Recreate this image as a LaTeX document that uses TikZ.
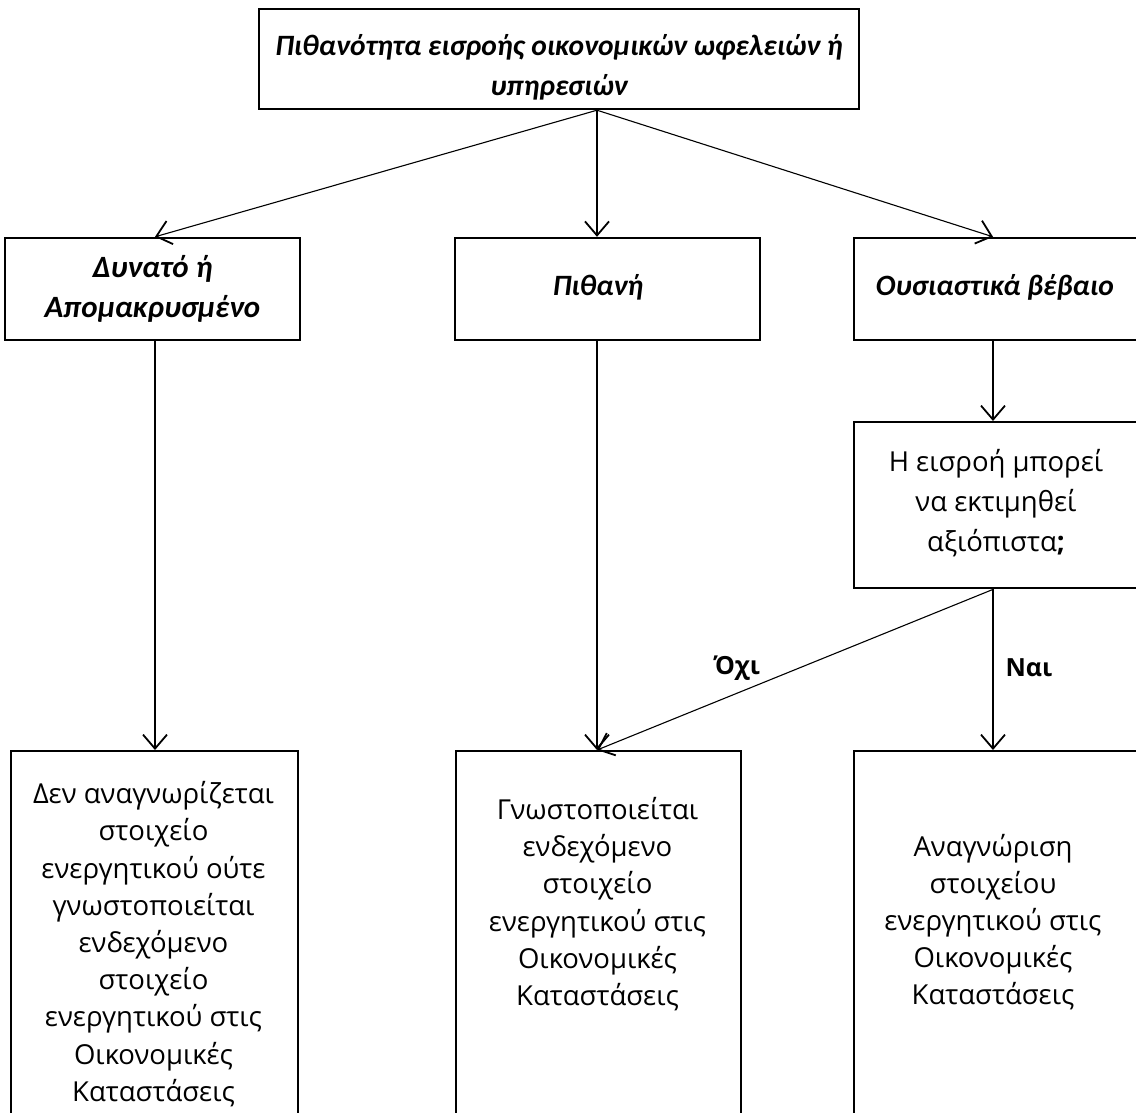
\documentclass[tikz,border=0pt]{standalone}
\usepackage{fontspec}
\setmainfont{Open Sans}
\newfontfamily\carlito{Carlito}
\usetikzlibrary{arrows.meta,calc}
\begin{document}
\begin{tikzpicture}[x=1pt,y=-1pt,
  box/.style={draw, line width=2.4pt, align=center, inner sep=0pt},
  hd/.style={font=\carlito\bfseries\itshape\fontsize{29.5}{40}\selectfont},
  md/.style={font=\carlito\bfseries\itshape\fontsize{31}{40}\selectfont},
  bd/.style={font=\fontsize{27.5}{37.2}\selectfont},
  qd/.style={font=\fontsize{27.5}{40}\selectfont},
  arr/.style={line width=1.1pt, -{Straight Barb[length=14pt,width=24pt,line width=1.8pt]}},
  lab/.style={font=\bfseries\fontsize{25}{28}\selectfont}]
\useasboundingbox (0,0) rectangle (1136,1112);
% top
\node[box,minimum width=600pt,minimum height=100pt] (top) at (559,59) {};
\node[hd,align=center] (topt) at (559,67) {Πιθανότητα εισροής οικονομικών ωφελειών ή\\υπηρεσιών};
% middle row
\node[box,md,minimum width=295pt,minimum height=102pt] (a) at (152.5,289) {Δυνατό ή\\Απομακρυσμένο};
\node[box,hd,minimum width=305pt,minimum height=102pt] (b) at (607.5,289) {};
\node[hd] (bt) at (598,287) {Πιθανή};
\node[box,minimum width=292pt,minimum height=102pt,anchor=west] (c) at (853,289) {};
\node[hd] (ct) at (995,287) {Ουσιαστικά βέβαιο};
% question
\node[box,minimum width=292pt,minimum height=166pt,anchor=north west] (q) at (853,421) {};
\node[qd,align=center] (qt) at (996,503) {Η εισροή μπορεί\\να εκτιμηθεί\\αξιόπιστα\textbf{;}};
% bottom
\node[box,minimum width=287pt,minimum height=370pt,anchor=north west] (d) at (10,750) {};
\node[box,minimum width=285pt,minimum height=370pt,anchor=north west] (e) at (455,750) {};
\node[box,minimum width=292pt,minimum height=370pt,anchor=north west] (f) at (853,750) {};
\node[bd,align=center] (dt) at (153.5,944) {Δεν αναγνωρίζεται\\στοιχείο\\ενεργητικού ούτε\\γνωστοποιείται\\ενδεχόμενο\\στοιχείο\\ενεργητικού στις\\Οικονομικές\\Καταστάσεις};
\node[bd,align=center] (et) at (597.5,904) {Γνωστοποιείται\\ενδεχόμενο\\στοιχείο\\ενεργητικού στις\\Οικονομικές\\Καταστάσεις};
\node[bd,align=center] (ft) at (993,922) {Αναγνώριση\\στοιχείου\\ενεργητικού στις\\Οικονομικές\\Καταστάσεις};
% coordinates
\coordinate (o) at ([xshift=38pt]top.south);
\coordinate (ax) at (155,0);
\coordinate (bx) at (597,0);
\coordinate (cx) at (993,0);
% arrows
\draw[arr] (o) -- (a.north -| ax);
\draw[arr] (o) -- (b.north -| bx);
\draw[arr] (o) -- (c.north -| cx);
\draw[arr] (a.south -| ax) -- (d.north -| ax);
\draw[arr] (b.south -| bx) -- (e.north -| bx);
\draw[arr] (c.south -| cx) -- (q.north -| cx);
\draw[arr] (q.south -| cx) -- (f.north -| cx);
\draw[arr] (q.south -| cx) -- (e.north -| bx);
\node[lab] (no) at (737,668) {Όχι};
\node[lab] (yes) at (1029,668) {Ναι};
\end{tikzpicture}
\end{document}
